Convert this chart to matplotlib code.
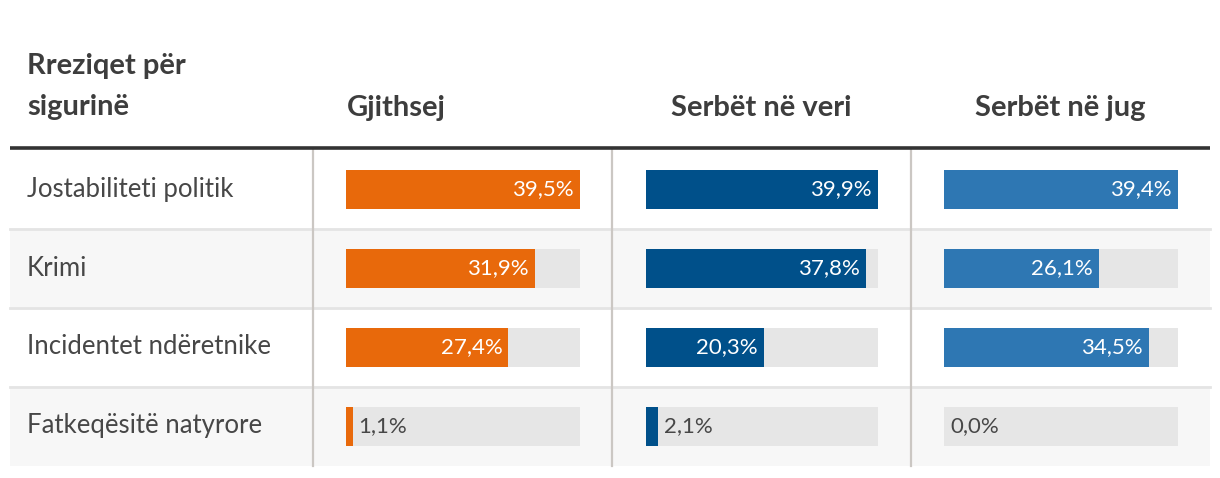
import matplotlib
matplotlib.use("Agg")
import matplotlib.pyplot as plt
from matplotlib.transforms import offset_copy

# data
risks = ["Jostabiliteti politik", "Krimi", "Incidentet ndëretnike", "Fatkeqësitë natyrore"]
columns = ["Gjithsej", "Serbët në veri", "Serbët në jug"]
gjithsej = [39.5, 31.9, 27.4, 1.1]
serbet_veri = [39.9, 37.8, 20.3, 2.1]
serbet_jug = [39.4, 26.1, 34.5, 0.0]
title = ["Rreziqet për", "sigurinë"]

series = [gjithsej, serbet_veri, serbet_jug]
colors = ["#e8690b", "#00508a", "#2e77b3"]

plt.rcParams["font.family"] = ["Lato", "DejaVu Sans"]
W, H = 1220, 478
fig = plt.figure(figsize=(W / 100, H / 100), dpi=100)

# background table drawn in pixel coords
bg = fig.add_axes([0, 0, 1, 1])
bg.set_xlim(0, W)
bg.set_ylim(H, 0)
bg.axis("off")

top, row_h = 150, 79
col_x = [313, 612, 911]
for i in range(len(risks)):
    y0 = top + i * row_h
    if i % 2 == 1:
        bg.fill_between([10, 1210], y0, y0 + row_h, color="#f7f7f7", lw=0, zorder=0)
    if i > 0:
        bg.plot([10, 1210], [y0, y0], color="#e4e4e4", lw=2, zorder=1)
    bg.text(27, y0 + row_h / 2 + 7, risks[i], fontsize=18.5, fontweight="normal",
            color="#474747", va="baseline", ha="left")
for x in col_x:
    bg.plot([x, x], [top, top + row_h * len(risks)], color="#cbc7c3", lw=1.6, zorder=2)
bg.plot([10, 1210], [148, 148], color="#333333", lw=2.6, zorder=3, solid_capstyle="butt")

# header
for k, line in enumerate(title):
    bg.text(27, 74 + 41 * k, line, fontsize=21, fontweight="bold", color="#3d3d3d",
            va="baseline", ha="left")
head_x = [396, 761, 1060]
for name, x in zip(columns, head_x):
    bg.text(x, 116, name, fontsize=21, fontweight="bold", color="#3d3d3d",
            va="baseline", ha="center")

# bar axes, one per column
bar_left = [346, 646, 944]
bar_w = [234, 232, 234]
for vals, c, left, w in zip(series, colors, bar_left, bar_w):
    ax = fig.add_axes([left / W, (H - top - row_h * len(risks)) / H, w / W, row_h * len(risks) / H])
    ax.axis("off")
    vmax = max(vals)
    ypos = list(range(len(vals)))
    ax.barh(ypos, [vmax] * len(vals), height=0.5, color="#e6e6e6", lw=0)
    ax.barh(ypos, vals, height=0.5, color=c, lw=0)
    ax.set_xlim(0, vmax)
    ax.set_ylim(len(vals) - 0.5, -0.5)
    tin = offset_copy(ax.transData, fig=fig, x=-6, y=0, units="dots")
    tout = offset_copy(ax.transData, fig=fig, x=6, y=0, units="dots")
    for i, v in enumerate(vals):
        lab = f"{v:.1f}%".replace(".", ",")
        if v / vmax > 0.2:
            ax.text(v, i, lab, transform=tin, ha="right", va="center",
                    color="white", fontsize=16)
        else:
            ax.text(v, i, lab, transform=tout, ha="left", va="center",
                    color="#474747", fontsize=16)

fig.savefig("out.png", dpi=100)
